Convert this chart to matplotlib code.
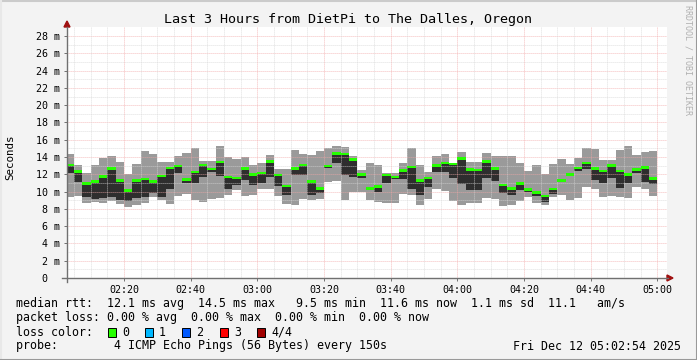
import matplotlib
matplotlib.use("Agg")
import matplotlib.pyplot as plt
import numpy as np
from matplotlib.lines import Line2D
from matplotlib.patches import Rectangle, Polygon

# ---- data (ms), one value per 150 s step; step edges in minutes since 00:00 ----
step_start = 122.5      # 02:02:30
step_len = 2.5          # 150 s
rtt_max = [14.35, 13.07, 12.11, 13.07, 13.92, 14.11, 13.46, 12.03, 13.19, 14.73,
           14.35, 13.46, 13.46, 14.11, 14.50, 15.00, 13.58, 13.58, 15.27, 14.04,
           13.73, 14.04, 13.07, 13.27, 14.23, 12.57, 12.57, 14.81, 14.35, 14.23,
           14.69, 15.00, 15.27, 15.12, 14.11, 12.50, 13.34, 13.03, 12.11, 12.19,
           13.34, 15.00, 13.07, 12.30, 14.11, 14.35, 13.34, 14.58, 13.46, 13.46,
           14.50, 14.11, 14.11, 14.11, 13.34, 12.38, 13.07, 12.03, 13.19, 13.73,
           13.19, 13.85, 15.00, 14.89, 13.65, 13.65, 14.81, 15.27, 14.23, 14.58,
           14.69]
rtt_min = [9.33, 9.49, 8.72, 8.83, 8.72, 8.95, 8.56, 8.25, 8.45, 8.72,
           9.33, 9.02, 8.56, 9.49, 9.72, 9.02, 8.83, 9.10, 9.22, 9.60,
           10.18, 9.49, 9.60, 10.26, 10.26, 9.49, 8.56, 8.45, 9.10, 9.02,
           9.10, 11.15, 11.26, 9.02, 9.99, 9.99, 9.02, 8.83, 8.72, 8.72,
           9.72, 9.60, 8.45, 9.10, 10.26, 10.10, 8.95, 8.45, 8.72, 8.72,
           9.22, 9.10, 8.33, 8.45, 8.95, 9.33, 8.72, 8.45, 9.33, 9.60,
           9.02, 9.22, 10.49, 10.26, 9.33, 9.49, 9.33, 9.22, 10.49, 10.26,
           9.49]
rtt_low = [12.11, 11.15, 9.33, 9.10, 9.22, 9.33, 9.02, 8.95, 9.22, 9.33,
           9.87, 9.33, 10.30, 12.19, 11.03, 10.95, 11.72, 12.23, 11.84, 10.26,
           10.76, 11.34, 10.76, 10.95, 11.72, 10.64, 9.60, 11.92, 11.92, 9.60,
           9.87, 12.69, 13.27, 11.92, 11.72, 11.53, 10.18, 9.99, 10.95, 11.42,
           11.42, 10.26, 9.56, 10.57, 12.30, 12.30, 11.53, 10.88, 10.18, 10.18,
           11.53, 11.26, 9.87, 9.60, 10.18, 9.99, 9.49, 8.83, 9.72, 11.15,
           11.80, 12.38, 12.57, 11.34, 11.03, 11.53, 10.45, 11.03, 12.11, 11.15,
           10.88]
rtt_median = [13.07, 12.34, 10.95, 11.15, 11.76, 12.65, 11.30, 10.14, 11.30, 11.45,
              11.15, 11.80, 12.73, 12.96, 11.42, 12.26, 13.07, 12.61, 13.42, 11.72,
              11.57, 12.69, 11.96, 12.15, 13.46, 11.92, 10.68, 12.65, 13.11, 11.15,
              10.37, 12.96, 14.42, 14.35, 13.73, 11.96, 10.37, 10.61, 11.92, 11.69,
              12.42, 12.84, 11.30, 11.57, 13.04, 13.34, 13.19, 13.81, 12.57, 12.50,
              13.50, 12.65, 10.76, 10.34, 10.95, 10.26, 9.87, 9.49, 10.30, 11.30,
              11.99, 12.73, 13.34, 12.69, 12.38, 13.04, 12.38, 11.99, 12.57, 12.80,
              11.53]

y_ticks = list(range(0, 29, 2))
y_tick_labels = ["0  "] + [f"{v} m" for v in y_ticks[1:]]
x_major = [140, 160, 180, 200, 220, 240, 260, 280, 300]
x_tick_labels = ["02:20", "02:40", "03:00", "03:20", "03:40", "04:00", "04:20", "04:40", "05:00"]
x_start, x_end = 122.9, 302.9   # 02:02:54 .. 05:02:54

title = "Last 3 Hours from DietPi to The Dalles, Oregon"
line_rtt = "median rtt:  12.1 ms avg  14.5 ms max   9.5 ms min  11.6 ms now  1.1 ms sd  11.1   am/s"
line_loss = "packet loss: 0.00 % avg  0.00 % max  0.00 % min  0.00 % now"
loss_labels = ["0", "1", "2", "3", "4/4"]
loss_colors = ["#26ff00", "#00b8ff", "#0059ff", "#ff0000", "#a00000"]
line_probe = "probe:        4 ICMP Echo Pings (56 Bytes) every 150s"
stamp = "Fri Dec 12 05:02:54 2025"

# ---- figure ----
W, H = 697, 360
MONO = "DejaVu Sans Mono"
fig = plt.figure(figsize=(W / 100, H / 100), dpi=100, facecolor="#f3f3f3")

def fx(x):
    return x / W

def fy(y):
    return 1 - y / H

ax = fig.add_axes([fx(67), 1 - 278 / H, 600 / W, 250.6 / H])
ax.set_facecolor("white")
ax.set_xlim(x_start, x_end)
ax.set_ylim(0, 29)
for s in ax.spines.values():
    s.set_visible(False)

n = len(rtt_max)
edges = step_start + step_len * np.arange(n + 1)
rmax = np.array(rtt_max)
rmin = np.array(rtt_min)
rlow = np.array(rtt_low)
rmed = np.array(rtt_median)

ax.stairs(rmax, edges, baseline=rmin, fill=True, color="#9a9a9a", lw=0, zorder=1)
ax.stairs(rmed, edges, baseline=rlow, fill=True, color="#2e2e2e", lw=0, zorder=2)
h = 0.14
ax.stairs(rmed + h, edges, baseline=rmed - h, fill=True, color="#26ff00", lw=0, zorder=4)

# grid (dotted, drawn over smoke)
dot = (0, (1, 1.4))
for v in range(1, 29):
    major = v % 2 == 0
    ax.axhline(v, color="#f2a8a8" if major else "#d6d6d6", lw=0.6, ls=dot, zorder=3)
for t in np.arange(125, 303, 5):
    major = t in x_major
    ax.axvline(t, color="#f2a8a8" if major else "#d6d6d6", lw=0.6, ls=dot, zorder=3)

ax.set_yticks(y_ticks)
ax.set_yticklabels(y_tick_labels, fontfamily=MONO, fontsize=7.2)
ax.set_xticks(x_major)
ax.set_xticklabels(x_tick_labels, fontfamily=MONO, fontsize=7.2)
ax.tick_params(axis="both", length=2.2, width=0.7, color="#707070", pad=2.9)
ax.set_ylabel("Seconds", fontfamily=MONO, fontsize=7.8)
ax.yaxis.set_label_coords(-52 / 600, 0.48)

# axis lines and arrows
fig.add_artist(Line2D([fx(67), fx(67)], [fy(282), fy(27)], color="#707070", lw=1.0))
fig.add_artist(Line2D([fx(62), fx(668)], [fy(278), fy(278)], color="#707070", lw=1.0))
fig.add_artist(Polygon([[fx(64), fy(27)], [fx(70), fy(27)], [fx(67), fy(21)]],
                       closed=True, color="#a01010", transform=fig.transFigure))
fig.add_artist(Polygon([[fx(667), fy(275)], [fx(667), fy(281)], [fx(673), fy(278)]],
                       closed=True, color="#a01010", transform=fig.transFigure))

# title
fig.text(fx(348), fy(19), title, ha="center", va="center", fontfamily=MONO, fontsize=9.6)

# watermark
fig.text(fx(688), fy(5), "RRDTOOL / TOBI OETIKER", ha="center", va="top", rotation=270,
         fontfamily=MONO, fontsize=6, color="#b0b0b0")

# legend lines
fs = 8.4
fig.text(fx(16), fy(303), line_rtt, ha="left", va="center", fontfamily=MONO, fontsize=fs)
fig.text(fx(16), fy(318), line_loss, ha="left", va="center", fontfamily=MONO, fontsize=fs)
fig.text(fx(16), fy(332), "loss color:", ha="left", va="center", fontfamily=MONO, fontsize=fs)
box_x = [108, 145, 182, 220, 257]
for bx, lab, col in zip(box_x, loss_labels, loss_colors):
    fig.add_artist(Rectangle((fx(bx), fy(336.5)), 8 / W, 9 / H, facecolor=col,
                             edgecolor="black", lw=0.7, transform=fig.transFigure))
    fig.text(fx(bx + 14), fy(332), lab, ha="left", va="center", fontfamily=MONO, fontsize=fs)
fig.text(fx(16), fy(346), line_probe, ha="left", va="center", fontfamily=MONO, fontsize=fs)
fig.text(fx(681), fy(346), stamp, ha="right", va="center", fontfamily=MONO, fontsize=fs)

# 3D frame
fig.add_artist(Line2D([0, 1], [fy(0.5), fy(0.5)], color="#cbcbcb", lw=1.5))
fig.add_artist(Line2D([fx(0.5), fx(0.5)], [0, 1], color="#e8e8e8", lw=1.5))
fig.add_artist(Line2D([0, 1], [fy(359.5), fy(359.5)], color="#999999", lw=1.5))
fig.add_artist(Line2D([fx(696.5), fx(696.5)], [0, 1], color="#999999", lw=1.5))

fig.savefig("out.png", dpi=100, facecolor=fig.get_facecolor())
